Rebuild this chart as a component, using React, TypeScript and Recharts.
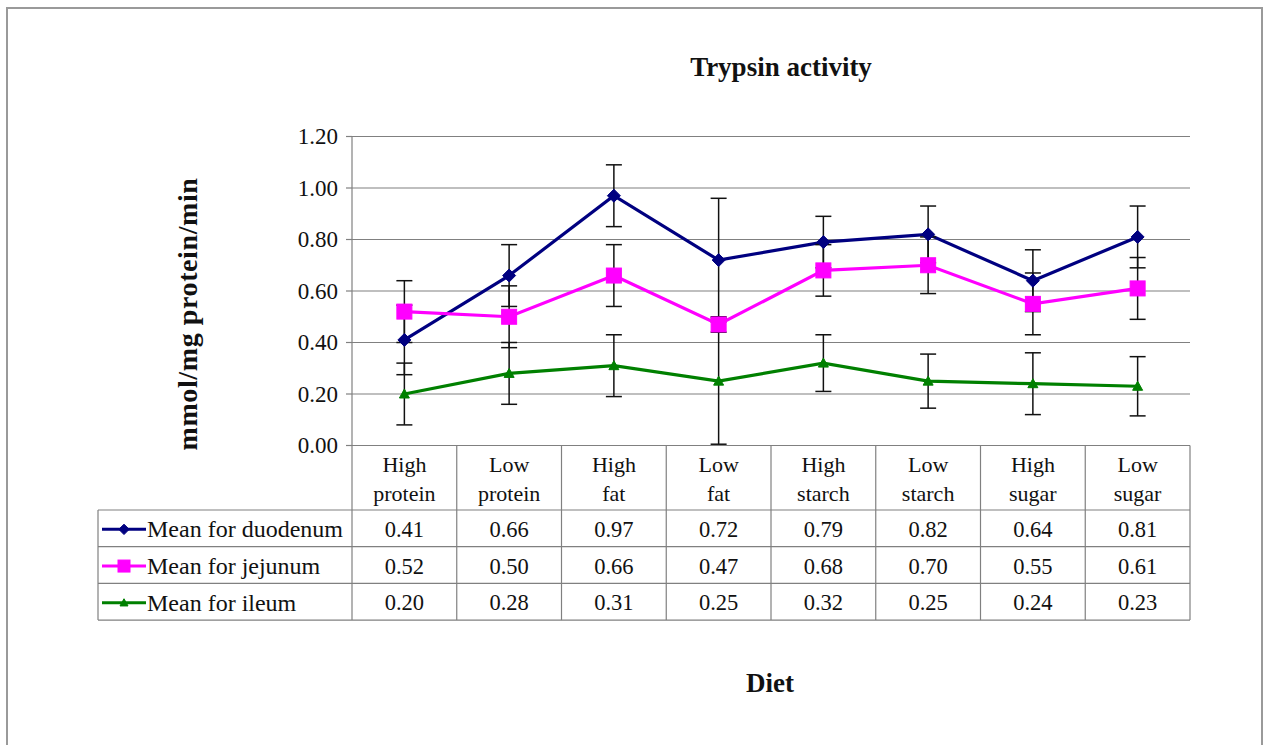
import React from 'react';
import { LineChart, Line, XAxis, YAxis, CartesianGrid, ErrorBar } from 'recharts';

// ---------- data ----------
const categories = ['High protein', 'Low protein', 'High fat', 'Low fat', 'High starch', 'Low starch', 'High sugar', 'Low sugar'];
const duodenum = [0.41, 0.66, 0.97, 0.72, 0.79, 0.82, 0.64, 0.81];
const jejunum = [0.52, 0.50, 0.66, 0.47, 0.68, 0.70, 0.55, 0.61];
const ileum = [0.20, 0.28, 0.31, 0.25, 0.32, 0.25, 0.24, 0.23];
const duodenumErr = [0.135, 0.12, 0.12, 0.24, 0.10, 0.11, 0.12, 0.12];
const jejunumErr = [0.12, 0.12, 0.12, 0.03, 0.10, 0.11, 0.12, 0.12];
const ileumErr = [0.12, 0.12, 0.12, 0.245, 0.11, 0.105, 0.12, 0.115];
const yTicks = [0, 0.2, 0.4, 0.6, 0.8, 1.0, 1.2];
const seriesNames = ['Mean for duodenum', 'Mean for jejunum', 'Mean for ileum'];
const seriesColors = ['#000080', '#ff00ff', '#008000'];
const seriesValues = [duodenum, jejunum, ileum];
const seriesShapes = ['diamond', 'square', 'triangle'];

const data = categories.map((c, i) => ({
  cat: c,
  duo: duodenum[i],
  jej: jejunum[i],
  ile: ileum[i],
  duoErr: duodenumErr[i],
  jejErr: jejunumErr[i],
  ileErr: ileumErr[i],
}));

// ---------- layout ----------
const W = 1266;
const H = 745;
const MARGIN = { top: 136.5, right: 76, bottom: 124.5, left: 292 };
const Y_AXIS_W = 60;
const X_AXIS_H = 175;
const PLOT_W = W - MARGIN.left - Y_AXIS_W - MARGIN.right;
const COL_W = PLOT_W / categories.length;
const HEADER_H = 64.5;
const ROW_H = 36.7;
const LEGEND_LEFT = 98;
const FONT = "'Liberation Serif', 'Times New Roman', serif";
const GRID = '#808080';
const TEXT = '#111';
const serif = (size: number, extra: any = {}) => ({ fontFamily: FONT, fontSize: size, ...extra });

const Marker = ({ shape, cx, cy, color, s = 1 }: any) => {
  if (cx == null || cy == null) return null;
  if (shape === 'diamond') {
    const r = 6.5 * s;
    return <polygon points={`${cx},${cy - r} ${cx + r},${cy} ${cx},${cy + r} ${cx - r},${cy}`} fill={color} stroke={color} />;
  }
  if (shape === 'square') {
    const r = 7.5 * s;
    return <rect x={cx - r} y={cy - r} width={2 * r} height={2 * r} fill={color} stroke={color} />;
  }
  const r = 5 * s;
  return <polygon points={`${cx},${cy - r} ${cx + r},${cy + r * 0.8} ${cx - r},${cy + r * 0.8}`} fill={color} stroke={color} />;
};

const makeDot = (shape: string, color: string) => (p: any) =>
  <Marker key={`d-${shape}-${p.index}`} shape={shape} cx={p.cx} cy={p.cy} color={color} />;

const YTick = (props: any) => {
  const { x, y, payload } = props;
  return (
    <text x={x} y={y} textAnchor="end" dominantBaseline="central" style={serif(23)} fill={TEXT}>
      {Number(payload.value).toFixed(2)}
    </text>
  );
};

const TableTick = (props: any) => {
  const { x, y, payload } = props;
  const i = payload.index;
  const n = categories.length;
  const left = x - COL_W / 2;
  const right = x + COL_W / 2;
  const bottom = y + HEADER_H + ROW_H * 3;
  const words = categories[i].split(' ');
  const tableRight = x + (n - i - 0.5) * COL_W;
  return (
    <g>
      <line x1={right} y1={y} x2={right} y2={bottom} stroke={GRID} strokeWidth={1.2} />
      {i === 0 && <line x1={left} y1={y} x2={left} y2={bottom} stroke={GRID} strokeWidth={1.2} />}
      <text x={x} y={y + 19} textAnchor="middle" dominantBaseline="central" style={serif(22)} fill={TEXT}>{words[0]}</text>
      <text x={x} y={y + 48} textAnchor="middle" dominantBaseline="central" style={serif(22)} fill={TEXT}>{words[1]}</text>
      {seriesValues.map((vals, k) => (
        <text key={k} x={x} y={y + HEADER_H + ROW_H * k + ROW_H / 2 + 1} textAnchor="middle" dominantBaseline="central"
          style={serif(22.5)} fill={TEXT}>{vals[i].toFixed(2)}</text>
      ))}
      {i === 0 && (
        <g>
          {[0, 1, 2, 3].map((k) => (
            <line key={k} x1={LEGEND_LEFT} y1={y + HEADER_H + ROW_H * k} x2={tableRight} y2={y + HEADER_H + ROW_H * k} stroke={GRID} strokeWidth={1.2} />
          ))}
          <line x1={LEGEND_LEFT} y1={y + HEADER_H} x2={LEGEND_LEFT} y2={bottom} stroke={GRID} strokeWidth={1.2} />
          {seriesNames.map((name, k) => {
            const cy = y + HEADER_H + ROW_H * k + ROW_H / 2 + 1;
            return (
              <g key={name}>
                <line x1={LEGEND_LEFT + 4} y1={cy} x2={LEGEND_LEFT + 48} y2={cy} stroke={seriesColors[k]} strokeWidth={3} />
                <Marker shape={seriesShapes[k]} cx={LEGEND_LEFT + 26} cy={cy} color={seriesColors[k]} s={0.8} />
                <text x={LEGEND_LEFT + 49} y={cy} dominantBaseline="central" style={serif(24)} fill={TEXT}>{name}</text>
              </g>
            );
          })}
        </g>
      )}
    </g>
  );
};

export default function App() {
  return (
    <div style={{ position: 'absolute', left: 0, top: 0, width: W, height: H, overflow: 'hidden', background: '#fff' }}>
      <div style={{ position: 'absolute', left: 6, top: 7, width: 1257, height: 800, border: '2px solid #9a9a9a', boxSizing: 'border-box' }} />
      <div style={{ position: 'absolute', left: 0, top: 0 }}>
        <LineChart width={W} height={H} data={data} margin={MARGIN}>
          <CartesianGrid horizontal vertical={false} stroke={GRID} strokeWidth={1.2} />
          <XAxis dataKey="cat" height={X_AXIS_H} padding={{ left: COL_W / 2, right: COL_W / 2 }} interval={0}
            axisLine={{ stroke: GRID, strokeWidth: 1.2 }} tickLine={false} tickSize={0} tickMargin={0} tick={<TableTick />} />
          <YAxis width={Y_AXIS_W} domain={[0, 1.2]} ticks={yTicks} interval={0}
            axisLine={{ stroke: GRID, strokeWidth: 1.2 }} tickLine={{ stroke: GRID, strokeWidth: 1.2 }} tickSize={6} tickMargin={8}
            tick={<YTick />} />
          <Line dataKey="duo" stroke={seriesColors[0]} strokeWidth={3.2} dot={makeDot('diamond', seriesColors[0])} isAnimationActive={false}>
            <ErrorBar dataKey="duoErr" width={8} stroke="#111" strokeWidth={1.5} direction="y" />
          </Line>
          <Line dataKey="jej" stroke={seriesColors[1]} strokeWidth={3.2} dot={makeDot('square', seriesColors[1])} isAnimationActive={false}>
            <ErrorBar dataKey="jejErr" width={8} stroke="#111" strokeWidth={1.5} direction="y" />
          </Line>
          <Line dataKey="ile" stroke={seriesColors[2]} strokeWidth={3.2} dot={makeDot('triangle', seriesColors[2])} isAnimationActive={false}>
            <ErrorBar dataKey="ileErr" width={8} stroke="#111" strokeWidth={1.5} direction="y" />
          </Line>
        </LineChart>
      </div>
      <div style={{ position: 'absolute', left: 581, top: 50, width: 400, textAlign: 'center', fontFamily: FONT, fontWeight: 'bold', fontSize: 27, color: TEXT, lineHeight: '34px' }}>
        Trypsin activity
      </div>
      <div style={{ position: 'absolute', left: 188 - 200, top: 314 - 17, width: 400, textAlign: 'center', fontFamily: FONT, fontWeight: 'bold', fontSize: 28, color: TEXT, lineHeight: '34px', transform: 'rotate(-90deg)', transformOrigin: '200px 17px', letterSpacing: 0.6 }}>
        mmol/mg protein/min
      </div>
      <div style={{ position: 'absolute', left: 570, top: 666, width: 400, textAlign: 'center', fontFamily: FONT, fontWeight: 'bold', fontSize: 27, color: TEXT, lineHeight: '34px' }}>
        Diet
      </div>
    </div>
  );
}
